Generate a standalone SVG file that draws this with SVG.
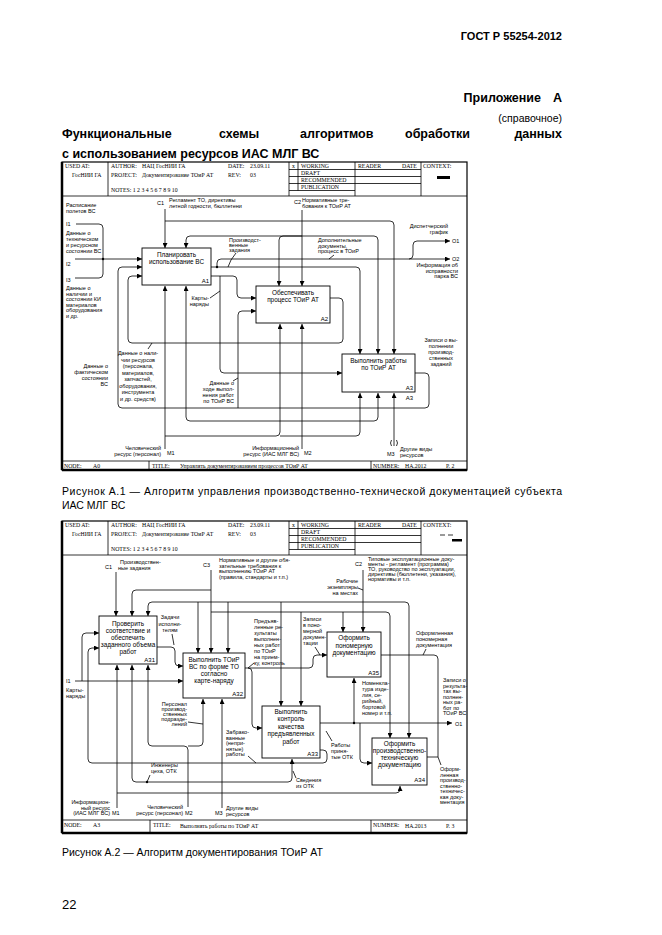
<svg xmlns="http://www.w3.org/2000/svg" width="662" height="935" viewBox="0 0 662 935">
<defs>
<style>
.pg{font-family:"Liberation Sans",Arial,sans-serif;fill:#000}
.b{font-weight:bold}
.ln{fill:none;stroke:#000;stroke-width:0.8}
.fr{fill:none;stroke:#000;stroke-width:1.2}
.th{fill:none;stroke:#000;stroke-width:2.5}
.hl{stroke:#000;stroke-width:0.8}
.bx{fill:#fff;stroke:#000;stroke-width:0.9}
.hd{font-family:"Liberation Serif","Times New Roman",serif;font-size:5.8px;fill:#000}
.lb{font-family:"Liberation Sans",Arial,sans-serif;font-size:5.5px;fill:#000}
.nt{font-family:"Liberation Sans",Arial,sans-serif;font-size:6.4px;fill:#000;text-anchor:middle}
.nn{font-family:"Liberation Sans",Arial,sans-serif;font-size:6px;fill:#000;text-anchor:end}
.e{text-anchor:end}
.m{text-anchor:middle}
.ar{marker-end:url(#ah)}
</style>
<marker id="ah" viewBox="0 0 6 6" refX="6" refY="3" markerWidth="5" markerHeight="5" orient="auto" markerUnits="userSpaceOnUse"><path d="M0,0L6,3L0,6z" fill="#000"/></marker>
<g id="hdr">
<line class="hl" x1="62" y1="34" x2="467" y2="34"/>
<line class="hl" x1="108" y1="0" x2="108" y2="34"/>
<line class="hl" x1="289" y1="0" x2="289" y2="34"/>
<line class="hl" x1="298" y1="0" x2="298" y2="28.5"/>
<line class="hl" x1="355" y1="0" x2="355" y2="34"/>
<line class="hl" x1="421" y1="0" x2="421" y2="34"/>
<line class="hl" x1="289" y1="7.5" x2="421" y2="7.5"/>
<line class="hl" x1="289" y1="14.5" x2="421" y2="14.5"/>
<line class="hl" x1="289" y1="21.5" x2="421" y2="21.5"/>
<line class="hl" x1="289" y1="28.5" x2="355" y2="28.5"/>
<text class="hd" x="65" y="5.5">USED AT:</text>
<text class="hd" x="72" y="15">ГосНИИ ГА</text>
<text class="hd" x="111" y="5.5">AUTHOR:</text>
<text class="hd" x="142" y="5.5">НАЦ ГосНИИ ГА</text>
<text class="hd" x="111" y="15">PROJECT:</text>
<text class="hd" x="142" y="15">Документирование ТОиР АТ</text>
<text class="hd" x="228" y="5.5">DATE:</text>
<text class="hd" x="250" y="5.5">23.09.11</text>
<text class="hd" x="228" y="15">REV:</text>
<text class="hd" x="250" y="15">03</text>
<text class="hd" x="111" y="30">NOTES:  1  2  3  4  5  6  7  8  9  10</text>
<text class="hd" x="292" y="5.5">x</text>
<text class="hd" x="301" y="6">WORKING</text>
<text class="hd" x="301" y="13">DRAFT</text>
<text class="hd" x="301" y="20">RECOMMENDED</text>
<text class="hd" x="301" y="27">PUBLICATION</text>
<text class="hd" x="358" y="6">READER</text>
<text class="hd" x="402" y="6">DATE</text>
<text class="hd" x="423" y="5.5">CONTEXT:</text>
</g>
</defs>
<rect x="0" y="0" width="662" height="935" fill="#fff"/>

<g id="page-text">
<text class="pg b" x="562" y="40" font-size="11" text-anchor="end">ГОСТ Р 55254-2012</text>
<text class="pg b" x="541" y="102" font-size="12.5" text-anchor="end">Приложение</text>
<text class="pg b" x="562" y="102" font-size="12.5" text-anchor="end">А</text>
<text class="pg" x="562" y="122" font-size="10.5" text-anchor="end">(справочное)</text>
<text class="pg b" x="62" y="138" font-size="12.5">Функциональные</text>
<text class="pg b" x="219" y="138" font-size="12.5">схемы</text>
<text class="pg b" x="300" y="138" font-size="12.5">алгоритмов</text>
<text class="pg b" x="405" y="138" font-size="12.5">обработки</text>
<text class="pg b" x="562" y="138" font-size="12.5" text-anchor="end">данных</text>
<text class="pg b" x="62" y="158" font-size="12.5">с использованием ресурсов ИАС МЛГ ВС</text>
<text class="pg" x="62" y="495" font-size="10.5" textLength="500" lengthAdjust="spacing">Рисунок А.1 — Алгоритм управления производственно-технической документацией субъекта</text>
<text class="pg" x="62" y="509" font-size="10.5">ИАС МЛГ ВС</text>
<text class="pg" x="62" y="856" font-size="10.5">Рисунок А.2 — Алгоритм документирования ТОиР АТ</text>
<text class="pg" x="62" y="909" font-size="13">22</text>
</g>

<!-- ================= DIAGRAM 1 ================= -->
<g id="diagram1">
<rect class="fr" x="62" y="162" width="405" height="308"/>
<line class="th" x1="62" y1="162" x2="62" y2="470"/>
<line class="th" x1="62" y1="470" x2="467" y2="470"/>
<use href="#hdr" transform="translate(0,162)"/>
<rect x="437" y="176" width="13" height="3" fill="#000"/>
<line class="hl" x1="62" y1="461" x2="467" y2="461"/>
<line class="hl" x1="149" y1="461" x2="149" y2="470"/>
<line class="hl" x1="371" y1="461" x2="371" y2="470"/>
<text class="hd" x="64" y="467.5">NODE:</text>
<text class="hd" x="93" y="467.5">A0</text>
<text class="hd" x="152" y="467.5">TITLE:</text>
<text class="hd" x="180" y="467.5">Управлять документированием процессов ТОиР АТ</text>
<text class="hd" x="373" y="467.5">NUMBER:</text>
<text class="hd" x="405" y="467.5">НА.2012</text>
<text class="hd" x="446" y="467.5">P. 2</text>
</g>

<g id="d1-A1">
<rect class="bx" x="142" y="248" width="69" height="37"/>
<text class="nt" x="176.5" y="257">Планировать</text>
<text class="nt" x="176.5" y="264">использование ВС</text>
<text class="nn" x="209" y="283">A1</text>
</g>
<g id="d1-A2">
<rect class="bx" x="256" y="286" width="74" height="37"/>
<text class="nt" x="293" y="295">Обеспечивать</text>
<text class="nt" x="293" y="302">процесс ТОиР АТ</text>
<text class="nn" x="328" y="321">A2</text>
</g>
<g id="d1-A3">
<rect class="bx" x="342" y="354" width="73" height="38"/>
<text class="nt" x="378.5" y="363">Выполнить работы</text>
<text class="nt" x="378.5" y="370">по ТОиР АТ</text>
<text class="nn" x="413" y="390">A3</text>
<text class="nn" x="413" y="400">A3</text>
</g>

<g id="d1-connectors">
<path class="ln ar" d="M165,209V248"/>
<path class="ln ar" d="M165,221H390Q394,221 394,225V354"/>
<path class="ln ar" d="M302,210V286"/>
<path class="ln ar" d="M302,236H190Q186,236 186,240V248"/>
<path class="ln ar" d="M302,236H283Q279,236 279,240V286"/>
<path class="ln ar" d="M302,236H374Q378,236 378,240V354"/>
<path class="ln ar" d="M211,267H356Q360,267 360,271V354"/>
<path class="ln ar" d="M217,267V263Q217,259 221,259H450"/>
<path class="ln ar" d="M409,259Q413,259 413,255V245Q413,241 417,241H450"/>
<path class="ln ar" d="M211,276H233Q237,276 237,280V294Q237,298 241,298H256"/>
<path class="ln ar" d="M220,276V369Q220,373 224,373H342"/>
<path class="ln ar" d="M330,298H339Q343,298 343,302V339Q343,343 339,343H132Q128,343 128,339V280Q128,276 132,276H142"/>
<path class="ln ar" d="M415,373H425Q429,373 429,377V404Q429,408 425,408H122Q118,408 118,404V271Q118,267 122,267H142"/>
<path class="ln ar" d="M238,408V315Q238,311 242,311H256"/>
<path class="ln ar" d="M75,259H142"/>
<path class="ln" d="M76,224H99Q103,224 103,228V259"/>
<path class="ln" d="M75,278H99Q103,278 103,274V259"/>
<path class="ln ar" d="M165,449V286"/>
<path class="ln ar" d="M165,436H276Q280,436 280,432V324"/>
<path class="ln ar" d="M280,436H356Q360,436 360,432V393"/>
<path class="ln ar" d="M302,449V324"/>
<path class="ln ar" d="M302,421H190Q186,421 186,417V286"/>
<path class="ln ar" d="M302,421H374Q378,421 378,417V393"/>
<path class="ln ar" d="M394,446V393"/>
<path class="ln" d="M391.5,440Q389.5,443 391.5,446M396.5,440Q398.5,443 396.5,446"/>
<circle cx="217" cy="267" r="1.2"/>
<circle cx="103" cy="259" r="1.2"/>
<path class="ln" d="M236,253L231,260L228,267"/>
<path class="ln" d="M334,255L329,259"/>
<path class="ln" d="M210,298L220,291"/>
<path class="ln" d="M148,349L152,343"/>
<path class="ln" d="M233,381L238,378"/>
</g>

<g id="d1-labels">
<text class="lb" x="157" y="205">C1</text>
<text class="lb" x="169" y="202">Регламент ТО, директивы</text>
<text class="lb" x="169" y="208">летной годности, бюллетени</text>
<text class="lb" x="294" y="204">C2</text>
<text class="lb" x="302" y="202">Нормативные тре-</text>
<text class="lb" x="302" y="208">бования к ТОиР АТ</text>
<text class="lb" x="66" y="207">Расписание</text>
<text class="lb" x="66" y="213">полетов ВС</text>
<text class="lb" x="66" y="226">I1</text>
<text class="lb" x="66" y="235">Данные о</text>
<text class="lb" x="66" y="241">техническом</text>
<text class="lb" x="66" y="247">и ресурсном</text>
<text class="lb" x="66" y="253">состоянии ВС</text>
<text class="lb" x="66" y="266">I2</text>
<text class="lb" x="66" y="282">I3</text>
<text class="lb" x="66" y="290">Данные о</text>
<text class="lb" x="66" y="295.5">наличии и</text>
<text class="lb" x="66" y="301">состоянии КИ</text>
<text class="lb" x="66" y="306.5">материалов</text>
<text class="lb" x="66" y="312">оборудования</text>
<text class="lb" x="66" y="317.5">и др.</text>
<text class="lb" x="229" y="242">Производст-</text>
<text class="lb" x="229" y="247">венные</text>
<text class="lb" x="229" y="252">задания</text>
<text class="lb" x="318" y="242">Дополнительные</text>
<text class="lb" x="318" y="247.5">документы,</text>
<text class="lb" x="318" y="253">процесс в ТОиР</text>
<text class="lb e" x="448" y="228">Диспетчерский</text>
<text class="lb e" x="448" y="234">график</text>
<text class="lb" x="452" y="243">O1</text>
<text class="lb" x="452" y="261">O2</text>
<text class="lb e" x="458" y="267">Информация об</text>
<text class="lb e" x="458" y="272.5">исправности</text>
<text class="lb e" x="458" y="278">парка ВС</text>
<text class="lb e" x="209" y="300">Карты-</text>
<text class="lb e" x="209" y="306">наряды</text>
<text class="lb m" x="138" y="355">Данные о нали-</text>
<text class="lb m" x="138" y="361.5">чии ресурсов</text>
<text class="lb m" x="138" y="368">(персонала,</text>
<text class="lb m" x="138" y="374.5">материалов,</text>
<text class="lb m" x="138" y="381">запчастей,</text>
<text class="lb m" x="138" y="387.5">оборудования,</text>
<text class="lb m" x="138" y="394">инструмента</text>
<text class="lb m" x="138" y="400.5">и др. средств)</text>
<text class="lb e" x="108" y="368">Данные о</text>
<text class="lb e" x="108" y="374">фактическом</text>
<text class="lb e" x="108" y="380">состоянии</text>
<text class="lb e" x="108" y="386">ВС</text>
<text class="lb e" x="234" y="385">Данные о</text>
<text class="lb e" x="234" y="391">ходе выпол-</text>
<text class="lb e" x="234" y="397">нения работ</text>
<text class="lb e" x="234" y="403">по ТОиР ВС</text>
<text class="lb m" x="441" y="342">Записи о вы-</text>
<text class="lb m" x="441" y="348">полнении</text>
<text class="lb m" x="441" y="354">производ-</text>
<text class="lb m" x="441" y="360">ственных</text>
<text class="lb m" x="441" y="366">заданий</text>
<text class="lb e" x="161" y="450">Человеческий</text>
<text class="lb e" x="161" y="456">ресурс (персонал)</text>
<text class="lb" x="167" y="455">M1</text>
<text class="lb e" x="299" y="450">Информационный</text>
<text class="lb e" x="299" y="456">ресурс (ИАС МЛГ ВС)</text>
<text class="lb" x="304" y="455">M2</text>
<text class="lb" x="387" y="456">M3</text>
<text class="lb" x="400" y="451">Другие виды</text>
<text class="lb" x="400" y="457">ресурсов</text>
</g>

<!-- ================= DIAGRAM 2 ================= -->
<g id="diagram2">
<rect class="fr" x="62" y="521" width="405" height="312"/>
<line class="th" x1="62" y1="521" x2="62" y2="833"/>
<line class="th" x1="62" y1="833" x2="467" y2="833"/>
<use href="#hdr" transform="translate(0,521)"/>
<line class="hl" x1="440" y1="535" x2="445" y2="535"/>
<line class="hl" x1="448" y1="535" x2="453" y2="535"/>
<rect x="452" y="539" width="10" height="2.5" fill="#000"/>
<line class="hl" x1="62" y1="820" x2="467" y2="820"/>
<line class="hl" x1="150" y1="820" x2="150" y2="833"/>
<line class="hl" x1="371" y1="820" x2="371" y2="833"/>
<text class="hd" x="64" y="827">NODE:</text>
<text class="hd" x="93" y="827">A3</text>
<text class="hd" x="153" y="827">TITLE:</text>
<text class="hd" x="180" y="828">Выполнять работы по ТОиР АТ</text>
<text class="hd" x="373" y="827">NUMBER:</text>
<text class="hd" x="405" y="828">НА.2013</text>
<text class="hd" x="446" y="828">P. 3</text>
</g>

<g id="d2-A31">
<rect class="bx" x="99" y="616" width="58" height="48"/>
<text class="nt" x="128" y="626">Проверить</text>
<text class="nt" x="128" y="633">соответствие и</text>
<text class="nt" x="128" y="640">обеспечить</text>
<text class="nt" x="128" y="647">заданного объема</text>
<text class="nt" x="128" y="654">работ</text>
<text class="nn" x="155" y="662">A31</text>
</g>
<g id="d2-A32">
<rect class="bx" x="183" y="653" width="62" height="45"/>
<text class="nt" x="214" y="662">Выполнить ТОиР</text>
<text class="nt" x="214" y="669">ВС по форме ТО</text>
<text class="nt" x="214" y="676">согласно</text>
<text class="nt" x="214" y="683">карте-наряду</text>
<text class="nn" x="243" y="696">A32</text>
</g>
<g id="d2-A33">
<rect class="bx" x="262" y="706" width="58" height="52"/>
<text class="nt" x="291" y="714">Выполнить</text>
<text class="nt" x="291" y="721">контроль</text>
<text class="nt" x="291" y="728.5">качества</text>
<text class="nt" x="291" y="736">предъявленных</text>
<text class="nt" x="291" y="743.5">работ</text>
<text class="nn" x="318" y="756">A33</text>
</g>
<g id="d2-A35">
<rect class="bx" x="327" y="632" width="54" height="45"/>
<text class="nt" x="354" y="640">Оформить</text>
<text class="nt" x="354" y="647.5">пономерную</text>
<text class="nt" x="354" y="655">документацию</text>
<text class="nn" x="379" y="675">A35</text>
</g>
<g id="d2-A34">
<rect class="bx" x="372" y="738" width="55" height="47"/>
<text class="nt" x="399.5" y="746">Оформить</text>
<text class="nt" x="399.5" y="753">производственно-</text>
<text class="nt" x="399.5" y="760">техническую</text>
<text class="nt" x="399.5" y="767">документацию</text>
<text class="nn" x="425" y="782">A34</text>
</g>

<g id="d2-connectors">
<path class="ln ar" d="M116,572V616"/>
<path class="ln ar" d="M211,570V653"/>
<path class="ln ar" d="M211,590H136Q132,590 132,594V616"/>
<path class="ln ar" d="M211,612H386Q390,612 390,616V738"/>
<path class="ln ar" d="M301,612V706"/>
<path class="ln ar" d="M343,612V632"/>
<path class="ln ar" d="M363,570V632"/>
<path class="ln ar" d="M363,602H152Q148,602 148,606V616"/>
<path class="ln ar" d="M363,602H405Q409,602 409,606V738"/>
<path class="ln ar" d="M198,602V653"/>
<path class="ln ar" d="M228,602V653"/>
<path class="ln ar" d="M281,602V706"/>
<path class="ln ar" d="M75,681H183"/>
<path class="ln ar" d="M82,681V637Q82,633 86,633H99"/>
<path class="ln ar" d="M320,750H323Q327,750 327,754V759Q327,763 323,763H92Q88,763 88,759V652Q88,648 92,648H99"/>
<path class="ln ar" d="M157,647H171Q175,647 175,651V662Q175,666 179,666H183"/>
<path class="ln ar" d="M245,668H248Q252,668 252,672V724Q252,728 256,728H262"/>
<path class="ln ar" d="M248,668H309Q313,668 313,664V659Q313,655 317,655H327"/>
<path class="ln ar" d="M320,723H452"/>
<path class="ln ar" d="M360,723V759Q360,763 364,763H372"/>
<path class="ln ar" d="M354,723V678"/>
<path class="ln" d="M381,655H434Q438,655 438,659V757H427"/>
<path class="ln ar" d="M117,808V665"/>
<path class="ln ar" d="M117,793H396Q400,793 400,789V786"/>
<path class="ln ar" d="M188,807V750Q188,746 184,746H152Q148,746 148,742V665"/>
<path class="ln ar" d="M188,746H199Q203,746 203,742V699"/>
<path class="ln ar" d="M188,782H136Q132,782 132,778V665"/>
<path class="ln ar" d="M188,782H288Q292,782 292,778V759"/>
<path class="ln ar" d="M222,808V699"/>
<circle cx="354" cy="723" r="1.2"/>
<circle cx="147" cy="782" r="1.2"/>
<path class="ln" d="M358,588L363,590"/>
<path class="ln" d="M172,634L174,645"/>
<path class="ln" d="M254,663L248,668"/>
<path class="ln" d="M315,647L320,655"/>
<path class="ln" d="M426,649L423,655"/>
<path class="ln" d="M441,765L438,757"/>
<path class="ln" d="M188,722L203,724"/>
<path class="ln" d="M248,756L256,763"/>
<path class="ln" d="M332,741L326,731"/>
<path class="ln" d="M150,775L147,782"/>
<path class="ln" d="M296,778L293,771"/>
</g>

<g id="d2-labels">
<text class="lb" x="105" y="569">C1</text>
<text class="lb" x="120" y="564">Производствен-</text>
<text class="lb" x="118" y="569.5">ные задания</text>
<text class="lb" x="203" y="567">C3</text>
<text class="lb" x="219" y="562">Нормативные и другие обя-</text>
<text class="lb" x="219" y="567.5">зательные требования к</text>
<text class="lb" x="219" y="573">выполнению ТОиР АТ</text>
<text class="lb" x="219" y="578.5">(правила, стандарты и т.п.)</text>
<text class="lb" x="355" y="566">C2</text>
<text class="lb" x="368" y="561">Типовые эксплуатационные доку-</text>
<text class="lb" x="368" y="566">менты - регламент (программа)</text>
<text class="lb" x="368" y="571">ТО, руководство по эксплуатации,</text>
<text class="lb" x="368" y="576">директивы (бюллетени, указания),</text>
<text class="lb" x="368" y="581">нормативы и т.п.</text>
<text class="lb e" x="358" y="583">Рабочие</text>
<text class="lb e" x="358" y="589">экземпляры</text>
<text class="lb e" x="358" y="595">на местах</text>
<text class="lb m" x="170" y="619">Задачи</text>
<text class="lb m" x="170" y="625.5">исполни-</text>
<text class="lb m" x="170" y="632">телям</text>
<text class="lb" x="254" y="623">Предъяв-</text>
<text class="lb" x="254" y="629">ленные ре-</text>
<text class="lb" x="254" y="635">зультаты</text>
<text class="lb" x="254" y="641">выполнен-</text>
<text class="lb" x="254" y="647">ных работ</text>
<text class="lb" x="254" y="653">по ТОиР</text>
<text class="lb" x="254" y="659">на прием-</text>
<text class="lb" x="254" y="665">ку, контроль</text>
<text class="lb" x="303" y="621">Записи</text>
<text class="lb" x="303" y="627">в поно-</text>
<text class="lb" x="303" y="633">мерной</text>
<text class="lb" x="303" y="639">докумен-</text>
<text class="lb" x="303" y="645">тации</text>
<text class="lb" x="416" y="635">Оформленная</text>
<text class="lb" x="416" y="641">пономерная</text>
<text class="lb" x="416" y="647">документация</text>
<text class="lb" x="362" y="685">Номенкла-</text>
<text class="lb" x="362" y="691">тура изде-</text>
<text class="lb" x="362" y="697">лия, се-</text>
<text class="lb" x="362" y="703">рийный,</text>
<text class="lb" x="362" y="709">бортовой</text>
<text class="lb" x="362" y="715">номер и т.п.</text>
<text class="lb" x="443" y="682">Записи о</text>
<text class="lb" x="443" y="687.5">результа-</text>
<text class="lb" x="443" y="693">тах вы-</text>
<text class="lb" x="443" y="698.5">полнен-</text>
<text class="lb" x="443" y="704">ных ра-</text>
<text class="lb" x="443" y="709.5">бот по</text>
<text class="lb" x="443" y="715">ТОиР ВС</text>
<text class="lb" x="455" y="726">O1</text>
<text class="lb" x="440" y="771">Оформ-</text>
<text class="lb" x="440" y="776.5">ленная</text>
<text class="lb" x="440" y="782">производ-</text>
<text class="lb" x="440" y="787.5">ственно-</text>
<text class="lb" x="440" y="793">техничес-</text>
<text class="lb" x="440" y="798.5">кая доку-</text>
<text class="lb" x="440" y="804">ментация</text>
<text class="lb" x="66" y="683">I1</text>
<text class="lb" x="66" y="692">Карты-</text>
<text class="lb" x="66" y="697.5">наряды</text>
<text class="lb e" x="187" y="706">Персонал</text>
<text class="lb e" x="187" y="711">производ-</text>
<text class="lb e" x="187" y="716">ственных</text>
<text class="lb e" x="187" y="721">подразде-</text>
<text class="lb e" x="187" y="726">лений</text>
<text class="lb" x="226" y="734">Забрако-</text>
<text class="lb" x="226" y="739.5">ванные</text>
<text class="lb" x="226" y="745">(непри-</text>
<text class="lb" x="226" y="750.5">нятые)</text>
<text class="lb" x="226" y="756">работы</text>
<text class="lb" x="331" y="747">Работы</text>
<text class="lb" x="331" y="753">приня-</text>
<text class="lb" x="331" y="759">тые ОТК</text>
<text class="lb" x="151" y="767">Инженеры</text>
<text class="lb" x="151" y="773">цеха, ОТК</text>
<text class="lb" x="296" y="782">Сведения</text>
<text class="lb" x="296" y="788">из ОТК</text>
<text class="lb e" x="110" y="804">Информацион-</text>
<text class="lb e" x="110" y="809.5">ный ресурс</text>
<text class="lb e" x="110" y="815">(ИАС МЛГ ВС)</text>
<text class="lb" x="112" y="815">M1</text>
<text class="lb e" x="183" y="809">Человеческий</text>
<text class="lb e" x="183" y="815">ресурс (персонал)</text>
<text class="lb" x="185" y="815">M2</text>
<text class="lb" x="215" y="815">M3</text>
<text class="lb" x="226" y="810">Другие виды</text>
<text class="lb" x="226" y="816">ресурсов</text>
</g>
</svg>
